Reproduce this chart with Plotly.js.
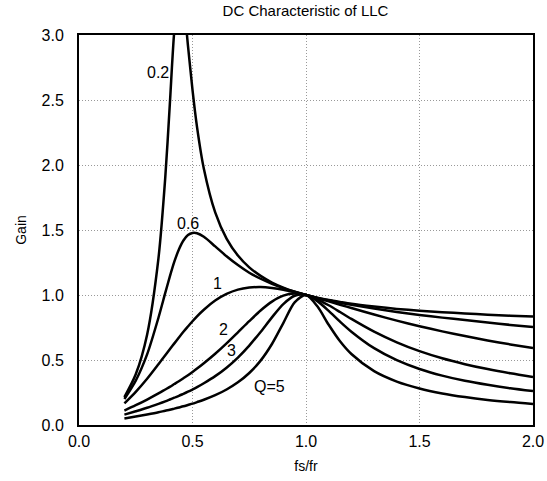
<!DOCTYPE html>
<html>
<head>
<meta charset="utf-8">
<script src="https://cdn.plot.ly/plotly-3.0.1.min.js"></script>
<style>html,body{margin:0;padding:0;background:#fff;}#chart{width:547px;height:481px;}</style>
</head>
<body>
<div id="chart"></div>
<script>
// normalized switching frequency fs/fr
const fs = [0.2,0.25,0.3,0.35,0.38,0.4,0.42,0.44,0.46,0.48,0.5,0.52,0.55,0.6,0.65,0.7,0.75,0.8,0.85,0.9,0.95,1.0,1.05,1.1,1.15,1.2,1.3,1.4,1.5,1.6,1.7,1.8,1.9,2.0];

// gain for each Q
const gainQ02 = [0.215,0.390,0.695,1.282,1.903,2.464,3.037,3.346,3.244,2.919,2.577,2.291,1.971,1.635,1.434,1.304,1.213,1.147,1.096,1.057,1.026,1.0,0.979,0.961,0.946,0.932,0.911,0.893,0.879,0.868,0.858,0.849,0.841,0.834];
const gainQ06 = [0.200,0.341,0.543,0.825,1.016,1.141,1.256,1.350,1.419,1.461,1.477,1.475,1.448,1.374,1.298,1.230,1.171,1.125,1.086,1.053,1.025,1.0,0.978,0.959,0.941,0.925,0.896,0.870,0.847,0.826,0.807,0.788,0.770,0.753];
const gainQ1 = [0.166,0.255,0.356,0.468,0.537,0.583,0.628,0.673,0.717,0.758,0.798,0.836,0.887,0.957,1.008,1.041,1.057,1.061,1.054,1.041,1.022,1.0,0.976,0.951,0.925,0.900,0.850,0.803,0.760,0.720,0.684,0.650,0.620,0.592];
const gainQ2 = [0.111,0.152,0.196,0.243,0.273,0.293,0.315,0.337,0.360,0.383,0.408,0.434,0.475,0.548,0.628,0.713,0.799,0.881,0.949,0.995,1.011,1.0,0.967,0.921,0.869,0.816,0.718,0.636,0.568,0.513,0.468,0.430,0.398,0.370];
const gainQ3 = [0.080,0.106,0.133,0.163,0.182,0.196,0.210,0.224,0.240,0.256,0.273,0.291,0.321,0.376,0.441,0.519,0.611,0.716,0.828,0.930,0.994,1.0,0.953,0.878,0.795,0.718,0.591,0.499,0.431,0.380,0.340,0.309,0.283,0.261];
const gainQ5 = [0.050,0.065,0.081,0.098,0.110,0.117,0.126,0.135,0.144,0.154,0.164,0.176,0.194,0.229,0.273,0.328,0.400,0.495,0.623,0.784,0.943,1.0,0.913,0.771,0.644,0.546,0.414,0.334,0.281,0.243,0.215,0.193,0.176,0.162];

// curve labels and where they sit
const curveLabels = ['0.2','0.6','1','2','3','Q=5'];
const labelX = [0.347,0.478,0.612,0.636,0.671,0.837];
const labelY = [2.715,1.55,1.09,0.731,0.573,0.298];

const xTickVals = [0,0.5,1.0,1.5,2.0];
const xTickText = ['0.0','0.5','1.0','1.5','2.0'];
const yTickVals = [0,0.5,1.0,1.5,2.0,2.5,3.0];
const yTickText = ['0.0','0.5','1.0','1.5','2.0','2.5','3.0'];

const series = [gainQ02,gainQ06,gainQ1,gainQ2,gainQ3,gainQ5];
const FONT = 'Liberation Sans, Arial, Helvetica, sans-serif';

const traces = series.map((g,i)=>({
  x: fs, y: g, type:'scatter', mode:'lines',
  line:{color:'#000', width:2.5, shape:'spline', smoothing:0.8},
  hoverinfo:'skip', showlegend:false, name: curveLabels[i]
}));

const annotations = curveLabels.map((t,i)=>({
  x: labelX[i], y: labelY[i], xref:'x', yref:'y', text:t, showarrow:false,
  font:{family:FONT, size:16, color:'#000'}
}));

const axisCommon = {
  showline:true, mirror:true, linecolor:'#000', linewidth:2,
  showgrid:true, gridcolor:'#999', gridwidth:1, griddash:'1px,2px',
  zeroline:false, ticks:'', tickfont:{family:FONT, size:16, color:'#000'},
  fixedrange:true
};

const layout = {
  width:547, height:481,
  margin:{l:79, r:14, t:35, b:56, pad:0},
  paper_bgcolor:'#fff', plot_bgcolor:'#fff',
  font:{family:FONT, size:14, color:'#000'},
  title:{text:'DC Characteristic of LLC', font:{family:FONT, size:15, color:'#000'},
         x:0.5585, xref:'container', xanchor:'center', y:0.978, yref:'container', yanchor:'middle'},
  xaxis:Object.assign({}, axisCommon, {
    range:[0,2], tickvals:xTickVals, ticktext:xTickText, ticklabelstandoff:1,
    title:{text:'fs/fr', font:{family:FONT, size:14, color:'#000'}, standoff:12}
  }),
  yaxis:Object.assign({}, axisCommon, {
    range:[0,3], tickvals:yTickVals, ticktext:yTickText, ticklabelstandoff:10,
    title:{text:'Gain', font:{family:FONT, size:14, color:'#000'}, standoff:12}
  }),
  annotations: annotations
};

Plotly.newPlot('chart', traces, layout, {displayModeBar:false, staticPlot:true});
</script>
</body>
</html>
